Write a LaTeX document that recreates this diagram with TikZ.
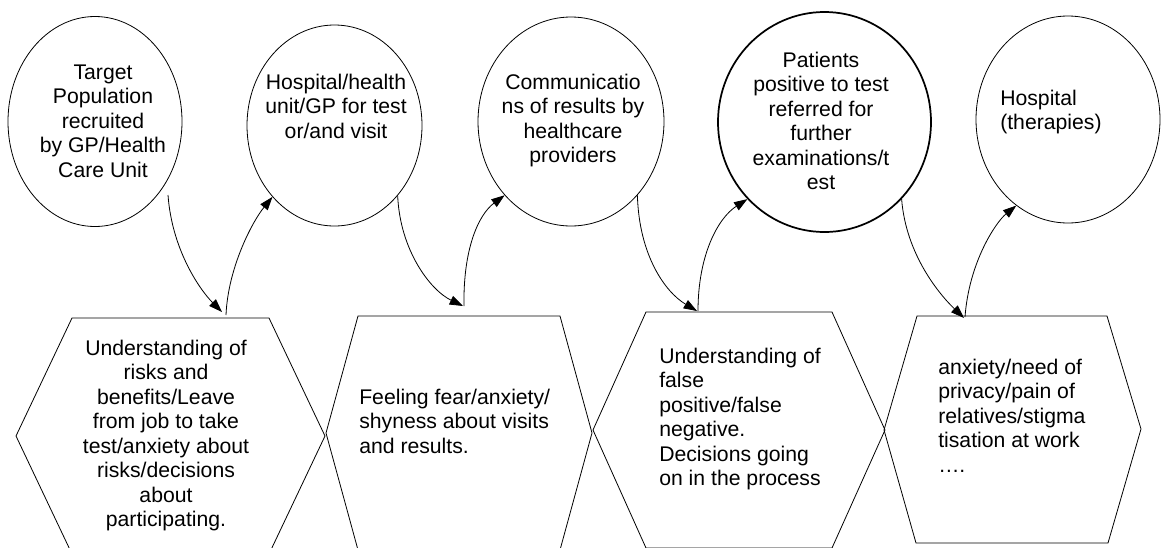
\documentclass[tikz,border=0pt]{standalone}
\usepackage{fontspec}
\setmainfont{Liberation Sans}
\usetikzlibrary{shapes.geometric,arrows.meta}
\newcommand\firststrut{\rule{0pt}{12.7pt}}
\begin{document}
\begin{tikzpicture}[x=0.75pt,y=-0.75pt,
  oval/.style={draw,ellipse,inner sep=0pt,line width=0.6pt},
  hexa/.style={draw,line width=0.6pt,line join=miter},
  txt/.style={inner sep=0pt,font=\fontsize{15.9pt}{18.4pt}\selectfont},
  link/.style={line width=0.6pt,-{Triangle[length=10pt,width=7pt]}}]
\useasboundingbox (0,0) rectangle (1161,547);

% ellipses
\node[oval,minimum width=130.5pt,minimum height=157.5pt] (e1) at (95,121.5) {};
\node[oval,minimum width=131.25pt,minimum height=150.75pt] (e2) at (334.5,125.5) {};
\node[oval,minimum width=139.5pt,minimum height=156.75pt] (e3) at (571,121.5) {};
\node[oval,line width=1.3pt,minimum width=159.75pt,minimum height=165pt] (e4) at (824.5,122) {};
\node[oval,minimum width=138pt,minimum height=155.25pt] (e5) at (1068,119.5) {};

% ellipse texts
\node[txt,align=center,anchor=north] (t1) at (103,62) {\firststrut Target\\Population\\recruited\\by GP/Health\\Care Unit};
\node[txt,align=center,anchor=north] (t2) at (336,72) {\firststrut Hospital/health\\unit/GP for test\\or/and visit};
\node[txt,align=center,anchor=north] (t3) at (573,72) {\firststrut Communicatio\\ns of results by\\healthcare\\providers};
\node[txt,align=center,anchor=north] (t4) at (821,50) {\firststrut Patients\\positive to test\\referred for\\further\\examinations/t\\est};
\node[txt,align=left,anchor=north west] (t5) at (1000,88) {\firststrut Hospital\\(therapies)};

% hexagons
\draw[hexa] (16,436) -- (72,318) -- (269,318) -- (325,436) -- (269,554) -- (72,554) -- cycle;
\draw[hexa] (326,433) -- (358,316) -- (560,316) -- (592,433) -- (560,550) -- (358,550) -- cycle;
\draw[hexa] (593,430) -- (646,312) -- (832,312) -- (885,430) -- (832,548) -- (646,548) -- cycle;
\draw[hexa] (884,430) -- (917,316) -- (1107,316) -- (1141,429) -- (1108,543) -- (916,543) -- cycle;

% hexagon texts
\node[txt,align=center,anchor=north] (h1t) at (166,338) {\firststrut Understanding of\\risks and\\benefits/Leave\\from job to take\\test/anxiety about\\risks/decisions\\about\\participating.};
\node[txt,align=left,anchor=north west] (h2t) at (359,387) {\firststrut Feeling fear/anxiety/\\shyness about visits\\and results.};
\node[txt,align=left,anchor=north west] (h3t) at (659,346) {\firststrut Understanding of\\false\\positive/false\\negative.\\Decisions going\\on in the process};
\node[txt,align=left,anchor=north west] (h4t) at (938,357) {\firststrut anxiety/need of\\privacy/pain of\\relatives/stigma\\tisation at work\\….};

% connector end points
\coordinate (a1s) at (168,195);
\coordinate (h1in) at (222,312);
\coordinate (h1out) at (226,315);
\coordinate (h2in) at (463,306);
\coordinate (h2out) at (464,306);
\coordinate (h3in) at (697,311);
\coordinate (h3out) at (698,311);
\coordinate (h4in) at (964,318);
\coordinate (h4out) at (965,317);

% connectors
\draw[link] (a1s) .. controls (172,250) and (200,290) .. (h1in);
\draw[link] (h1out) .. controls (228,268) and (252,222) .. (e2.-131.6);
\draw[link] (e2.-48.8) .. controls (400,250) and (430,290) .. (h2in);
\draw[link] (h2out) .. controls (463,250) and (478,215) .. (e3.-132);
\draw[link] (e3.-48.8) .. controls (639,255) and (665,292) .. (h3in);
\draw[link] (h3out) .. controls (698,255) and (718,218) .. (e4.-135.2);
\draw[link] (e4.-45.2) .. controls (906,255) and (940,295) .. (h4in);
\draw[link] (h4out) .. controls (969,262) and (996,222) .. (e5.-121);
\end{tikzpicture}
\end{document}
